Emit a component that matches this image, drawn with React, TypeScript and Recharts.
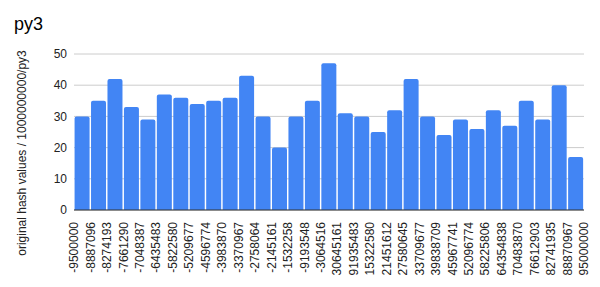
import { BarChart, Bar, XAxis, YAxis, CartesianGrid, Label } from "recharts"

const edgeLabels = [
  "-9500000", "-8887096", "-8274193", "-7661290", "-7048387", "-6435483", "-5822580", "-5209677",
  "-4596774", "-3983870", "-3370967", "-2758064", "-2145161", "-1532258", "-9193548", "-3064516",
  "30645161", "91935483", "15322580", "21451612", "27580645", "33709677", "39838709", "45967741",
  "52096774", "58225806", "64354838", "70483870", "76612903", "82741935", "88870967", "95000000",
]
const counts = [30, 35, 42, 33, 29, 37, 36, 34, 35, 36, 43, 30, 20, 30, 35, 47, 31, 30, 25, 32, 42, 30, 24, 29, 26, 32, 27, 35, 29, 40, 17]
const yTicks = [0, 10, 20, 30, 40, 50]

const FONT = "'Liberation Sans', Arial, sans-serif"
const data = counts.map((v, i) => ({ bin: i, pos: i + 0.5, value: v }))
const edgeTicks = edgeLabels.map((_, i) => i)

function EdgeTick(props: any) {
  const { x, y, payload } = props
  return (
    <text x={x} y={y + 4} dy="0.35em" transform={`rotate(-90, ${x}, ${y + 4})`} textAnchor="end"
      fontSize={12} fill="#222" fontFamily={FONT}>
      {edgeLabels[payload.value]}
    </text>
  )
}

function YTitle(props: any) {
  const { viewBox } = props
  const cx = 22
  const cy = viewBox.y + viewBox.height / 2 + 21
  return (
    <text x={cx} y={cy} transform={`rotate(-90, ${cx}, ${cy})`} textAnchor="middle" dy="0.35em"
      fontSize={12} fill="#222" fontFamily={FONT}>
      original hash values / 1000000000/py3
    </text>
  )
}

export default function App() {
  return (
    <div style={{ position: "absolute", left: 0, top: 0, width: 600, height: 287, background: "#fff", fontFamily: FONT }}>
      <div style={{ position: "absolute", left: 14, top: 14, fontSize: 18, color: "#000" }}>py3</div>
      <BarChart width={600} height={287} data={data} margin={{ top: 54, right: 16, bottom: 0, left: 0 }} barCategoryGap="3.5%">
        <CartesianGrid vertical={false} stroke="#ccc" />
        <XAxis xAxisId="bins" dataKey="bin" hide height={0} />
        <XAxis xAxisId="edges" dataKey="pos" type="number" domain={[0, 31]} ticks={edgeTicks} interval={0}
          height={77} tick={<EdgeTick />} tickLine={false} axisLine={{ stroke: "#333" }} />
        <YAxis width={74} domain={[0, 50]} ticks={yTicks} tickLine={false} axisLine={false} tickSize={0} tickMargin={7}
          tick={{ fontSize: 12, fill: "#222", fontFamily: FONT }}>
          <Label content={<YTitle />} />
        </YAxis>
        <Bar xAxisId="bins" dataKey="value" fill="#4285F4" radius={[2, 2, 0, 0]} isAnimationActive={false} />
      </BarChart>
    </div>
  )
}
